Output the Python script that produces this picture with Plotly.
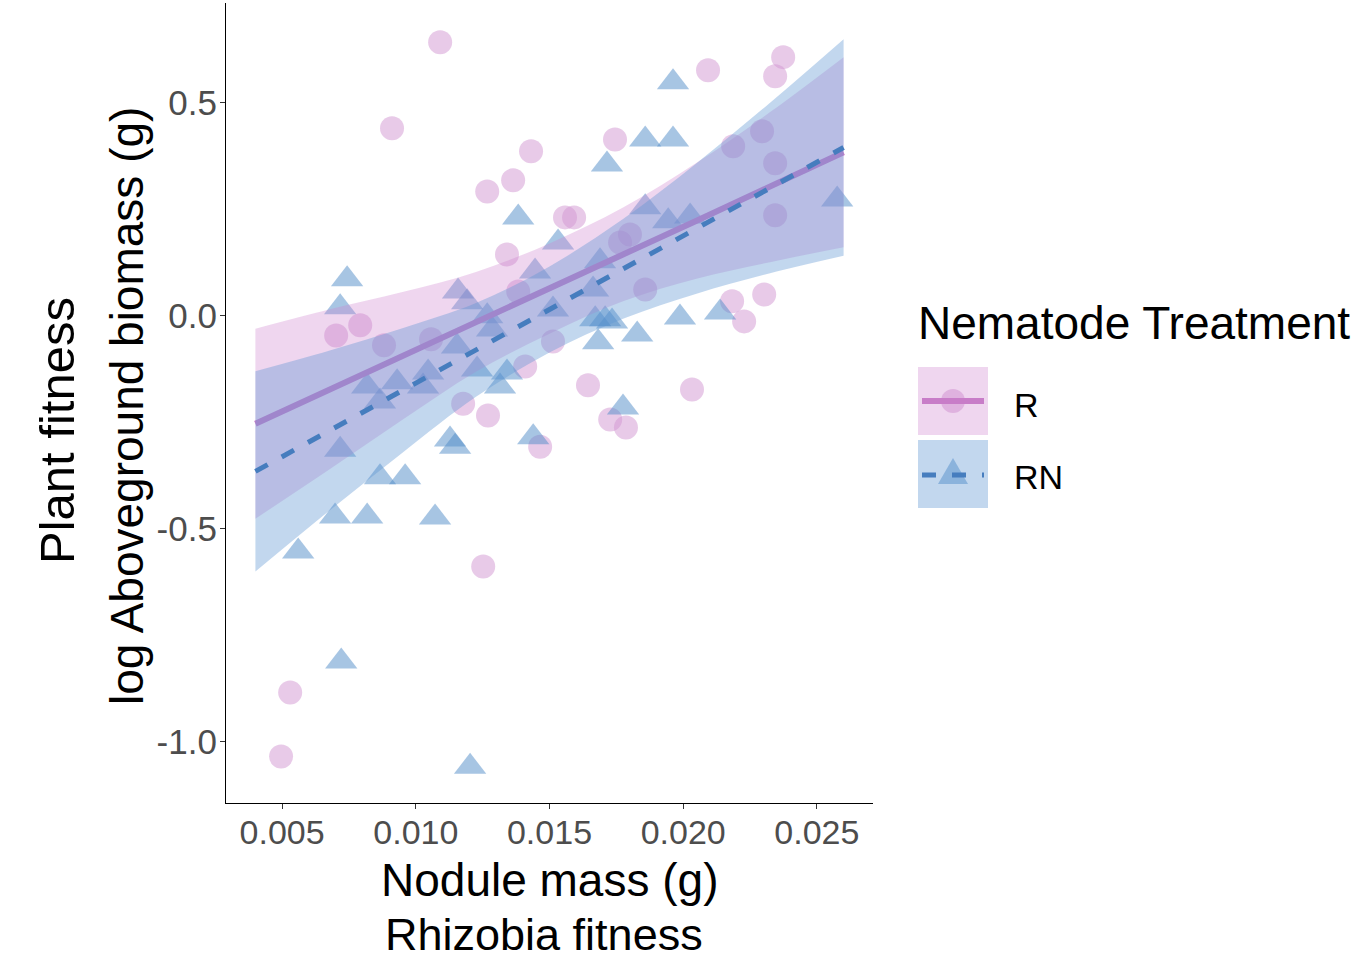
import plotly.graph_objects as go

# ---------------- data ----------------
# Nematode treatment R (circles)
r_x = [0.01091, 0.00911, 0.01431, 0.01364, 0.01267, 0.01745, 0.02093, 0.02374, 0.02344, 0.02295,
       0.02187, 0.02344, 0.02344, 0.01558, 0.01592, 0.00702, 0.00792, 0.00881, 0.01177, 0.01270,
       0.01341, 0.01858, 0.01513, 0.01409, 0.01644, 0.02033, 0.01727, 0.01786, 0.01465, 0.02183,
       0.02303, 0.02228, 0.01252, 0.00530, 0.00496, 0.01057, 0.01383, 0.01764, 0.01801]
r_y = [0.641, 0.439, 0.385, 0.317, 0.291, 0.413, 0.575, 0.606, 0.561, 0.432,
       0.397, 0.357, 0.235, 0.230, 0.230, -0.047, -0.023, -0.070, -0.207, -0.235,
       0.143, 0.061, -0.061, -0.120, -0.164, -0.174, -0.244, -0.263, -0.308, 0.033,
       0.049, -0.014, -0.589, -0.885, -1.035, -0.056, 0.056, 0.171, 0.190]

# Nematode treatment RN (triangles)
rn_x = [0.01962, 0.01858, 0.01962, 0.01715, 0.02576, 0.01858, 0.01944, 0.02026, 0.01532, 0.01383,
        0.01446, 0.01689, 0.01663, 0.00743, 0.00717, 0.01158, 0.01192, 0.01513, 0.01671, 0.01708,
        0.01734, 0.01682, 0.01828, 0.01988, 0.02138, 0.01775, 0.01341, 0.01315, 0.01229, 0.01267,
        0.01154, 0.01046, 0.01027, 0.00930, 0.00818, 0.00866, 0.00717, 0.01128, 0.01147, 0.00866,
        0.00960, 0.00698, 0.00818, 0.01072, 0.00560, 0.00721, 0.01203, 0.01439, 0.01285]
rn_y = [0.547, 0.413, 0.413, 0.354, 0.272, 0.254, 0.221, 0.232, 0.171, 0.230,
        0.103, 0.127, 0.061, 0.085, 0.019, 0.056, 0.031, 0.014, -0.009, -0.009,
        -0.014, -0.063, -0.045, -0.005, 0.007, -0.216, -0.134, -0.167, -0.127, -0.002,
        -0.073, -0.134, -0.167, -0.157, -0.167, -0.202, -0.315, -0.291, -0.308, -0.380,
        -0.380, -0.472, -0.472, -0.474, -0.554, -0.812, -1.059, -0.286, -0.033]

# fitted lines and 95% confidence bands
fit_x = [0.004, 0.00675, 0.0095, 0.01225, 0.015, 0.01775, 0.0205, 0.02325, 0.026]
r_fit = [-0.254, -0.174, -0.095, -0.015, 0.063, 0.143, 0.222, 0.301, 0.383]
r_lo = [-0.477, -0.362, -0.245, -0.132, -0.043, 0.033, 0.086, 0.125, 0.160]
r_hi = [-0.031, 0.014, 0.055, 0.102, 0.169, 0.253, 0.358, 0.477, 0.606]
rn_fit = [-0.366, -0.271, -0.176, -0.081, 0.014, 0.109, 0.204, 0.299, 0.394]
rn_lo = [-0.601, -0.459, -0.322, -0.191, -0.087, -0.008, 0.051, 0.099, 0.140]
rn_hi = [-0.131, -0.083, -0.030, 0.029, 0.115, 0.226, 0.357, 0.499, 0.648]

x_ticks = [0.005, 0.010, 0.015, 0.020, 0.025]
x_ticklabels = ["0.005", "0.010", "0.015", "0.020", "0.025"]
y_ticks = [-1.0, -0.5, 0.0, 0.5]
y_ticklabels = ["-1.0", "-0.5", "0.0", "0.5"]

groups = ["R", "RN"]
legend_title = "Nematode Treatment"

# ---------------- styles ----------------
FONT = "Liberation Sans, Arial, sans-serif"
R_PT = "rgba(210,150,210,0.5)"
RN_PT = "rgba(80,140,200,0.5)"
R_BAND = "rgba(205,130,205,0.33)"
RN_BAND = "rgba(95,150,210,0.38)"
R_LINE = "rgb(200,125,200)"
RN_LINE = "rgb(70,125,190)"

fig = go.Figure()

# points
fig.add_trace(go.Scatter(x=r_x, y=r_y, mode="markers", showlegend=False,
                         marker=dict(symbol="circle", size=24, color=R_PT, line=dict(width=0))))
fig.add_trace(go.Scatter(x=rn_x, y=rn_y, mode="markers", showlegend=False,
                         marker=dict(symbol="triangle-up", size=28, color=RN_PT, line=dict(width=0))))

# R band + line
fig.add_trace(go.Scatter(x=fit_x, y=r_lo, mode="lines", line=dict(width=0, shape="spline"),
                         showlegend=False, hoverinfo="skip"))
fig.add_trace(go.Scatter(x=fit_x, y=r_hi, mode="lines", line=dict(width=0, shape="spline"),
                         fill="tonexty", fillcolor=R_BAND, showlegend=False, hoverinfo="skip"))
fig.add_trace(go.Scatter(x=fit_x, y=r_fit, mode="lines", line=dict(width=6, color=R_LINE),
                         showlegend=False))

# RN band + line
fig.add_trace(go.Scatter(x=fit_x, y=rn_lo, mode="lines", line=dict(width=0, shape="spline"),
                         showlegend=False, hoverinfo="skip"))
fig.add_trace(go.Scatter(x=fit_x, y=rn_hi, mode="lines", line=dict(width=0, shape="spline"),
                         fill="tonexty", fillcolor=RN_BAND, showlegend=False, hoverinfo="skip"))
fig.add_trace(go.Scatter(x=fit_x, y=rn_fit, mode="lines",
                         line=dict(width=5, color=RN_LINE, dash="14px,16px"),
                         showlegend=False))

# ---------------- layout ----------------
L, R, T, B = 226, 498, 3, 160
W, H = 1371, 963
PW, PH = W - L - R, H - T - B


def px(xpix):
    return (xpix - L) / PW


def py(ypix):
    return (H - B - ypix) / PH


fig.update_layout(
    width=W, height=H,
    margin=dict(l=L, r=R, t=T, b=B, pad=0),
    plot_bgcolor="white", paper_bgcolor="white",
    showlegend=False,
    font=dict(family=FONT),
    xaxis=dict(range=[0.0029, 0.0271], showgrid=False, zeroline=False,
               showline=True, linecolor="black", linewidth=1.2,
               ticks="outside", ticklen=5, tickcolor="#333333", tickwidth=1.2,
               tickvals=x_ticks, ticktext=x_ticklabels, ticklabelstandoff=-6,
               tickfont=dict(size=34, color="#4D4D4D", family=FONT)),
    yaxis=dict(range=[-1.144, 0.733], showgrid=False, zeroline=False,
               showline=True, linecolor="black", linewidth=1.2,
               ticks="outside", ticklen=5, tickcolor="#333333", tickwidth=1.2,
               tickvals=y_ticks, ticktext=y_ticklabels, ticklabelstandoff=-4,
               tickfont=dict(size=35, color="#4D4D4D", family=FONT)),
)

ann = []
ann.append(dict(text="Nodule mass (g)", x=0.5, y=py(880), xref="paper", yref="paper",
                xanchor="center", yanchor="middle", showarrow=False,
                font=dict(size=46, color="black", family=FONT)))
ann.append(dict(text="Rhizobia fitness", x=px(544), y=py(934), xref="paper", yref="paper",
                xanchor="center", yanchor="middle", showarrow=False, borderpad=0,
                font=dict(size=45, color="black", family=FONT)))
ann.append(dict(text="log Aboveground biomass (g)", x=px(127), y=py(406), xref="paper", yref="paper",
                xanchor="center", yanchor="middle", showarrow=False, textangle=-90,
                font=dict(size=46, color="black", family=FONT)))
ann.append(dict(text="Plant fitness", x=px(57), y=py(431), xref="paper", yref="paper",
                xanchor="center", yanchor="middle", showarrow=False, textangle=-90,
                font=dict(size=49, color="black", family=FONT)))
ann.append(dict(text=legend_title, x=px(916), y=py(323), xref="paper", yref="paper",
                xanchor="left", yanchor="middle", showarrow=False,
                font=dict(size=46, color="black", family=FONT)))
ann.append(dict(text=groups[0], x=px(1012), y=py(405), xref="paper", yref="paper",
                xanchor="left", yanchor="middle", showarrow=False,
                font=dict(size=34, color="black", family=FONT)))
ann.append(dict(text=groups[1], x=px(1012), y=py(477), xref="paper", yref="paper",
                xanchor="left", yanchor="middle", showarrow=False,
                font=dict(size=34, color="black", family=FONT)))
fig.update_layout(annotations=ann)

# manual legend keys
shapes = []
# R key: point, band fill, line
shapes.append(dict(type="circle", xref="paper", yref="paper",
                   x0=px(941), x1=px(965), y0=py(413), y1=py(389),
                   fillcolor=R_PT, line=dict(width=0)))
shapes.append(dict(type="rect", xref="paper", yref="paper",
                   x0=px(918), x1=px(988), y0=py(435), y1=py(367),
                   fillcolor=R_BAND, line=dict(width=0)))
shapes.append(dict(type="line", xref="paper", yref="paper",
                   x0=px(922), x1=px(984), y0=py(401), y1=py(401),
                   line=dict(color=R_LINE, width=6)))
# RN key: triangle, band fill, dashed line
tri = "M {:.5f} {:.5f} L {:.5f} {:.5f} L {:.5f} {:.5f} Z".format(
    px(938), py(484), px(968), py(484), px(953), py(458))
shapes.append(dict(type="path", xref="paper", yref="paper", path=tri,
                   fillcolor=RN_PT, line=dict(width=0)))
shapes.append(dict(type="rect", xref="paper", yref="paper",
                   x0=px(918), x1=px(988), y0=py(508), y1=py(440),
                   fillcolor=RN_BAND, line=dict(width=0)))
shapes.append(dict(type="line", xref="paper", yref="paper",
                   x0=px(922), x1=px(984), y0=py(475), y1=py(475),
                   line=dict(color=RN_LINE, width=5, dash="14px,16px")))
fig.update_layout(shapes=shapes)

fig.write_html("out.html", config={"displayModeBar": False},
               post_script="document.body.style.margin='0px';document.body.style.padding='0px';")
